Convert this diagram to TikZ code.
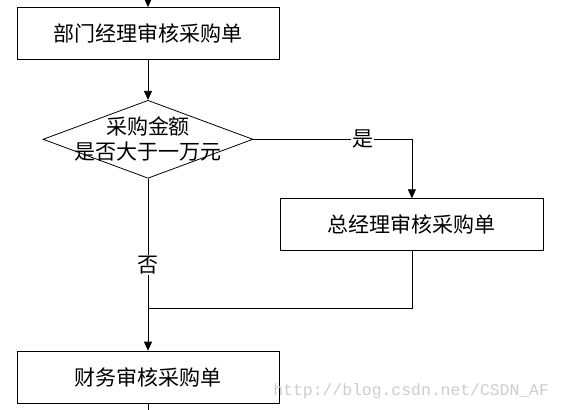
\documentclass[tikz,border=0pt]{standalone}
\usepackage{fontspec}
\newfontfamily\cjk{Noto Sans CJK SC}
\newfontfamily\wmfont{Liberation Mono}
\usetikzlibrary{positioning,calc,shapes.geometric,arrows.meta}
\definecolor{wmgray}{RGB}{205,205,205}
\begin{document}
\begin{tikzpicture}[
    font=\cjk\fontsize{21}{25}\selectfont,
    line width=0.8pt,
    >={Triangle[length=9pt,width=8pt]}
  ]
\useasboundingbox (0,0) rectangle (563pt,-410pt);
\def\bw{262pt}

\tikzstyle{stepbox}=[draw,rectangle,minimum width=\bw,minimum height=52pt,inner sep=0pt];
\tikzstyle{check}=[draw,diamond,minimum width=210pt,minimum height=78pt,inner sep=0pt];
\tikzstyle{lbl}=[fill=white,inner sep=1pt];

\node[stepbox] (mgr) at (148pt,-33.5pt) {部门经理审核采购单};
\node[check,below=40pt of mgr] (amount) {};
\node[align=center,inner sep=0pt] (amounttext) at (amount) {采购金额\\是否大于一万元};

\coordinate (aux) at ($ (amount.east) + (158.5pt,0) $);
\node[stepbox,minimum width=263pt,below=59pt of aux] (gm) {总经理审核采购单};
\node[stepbox,below=172pt of amount] (fin) {财务审核采购单};

\coordinate (top) at ($ (mgr.north) + (0,7pt) $);
\coordinate (merge) at ($ (fin.north) + (0,42pt) $);
\coordinate (bottom) at ($ (fin.south) + (0,-8pt) $);

\draw[->] (top) -- (mgr);
\draw[->] (mgr) -- (amount);
\draw[->] (amount.east) -| node[lbl,pos=.345] {是} (gm.north);
\draw[->] (amount.south) -- node[lbl] {否} (fin.north);
\draw (gm.south) |- (merge);
\draw (fin) -- (bottom);

% watermark
\node[font=\wmfont\fontsize{16.4}{18}\selectfont,text=wmgray,anchor=base west,inner sep=0pt] (wm) at (273pt,-395pt) {http://blog.csdn.net/CSDN\_AF};

\end{tikzpicture}
\end{document}
